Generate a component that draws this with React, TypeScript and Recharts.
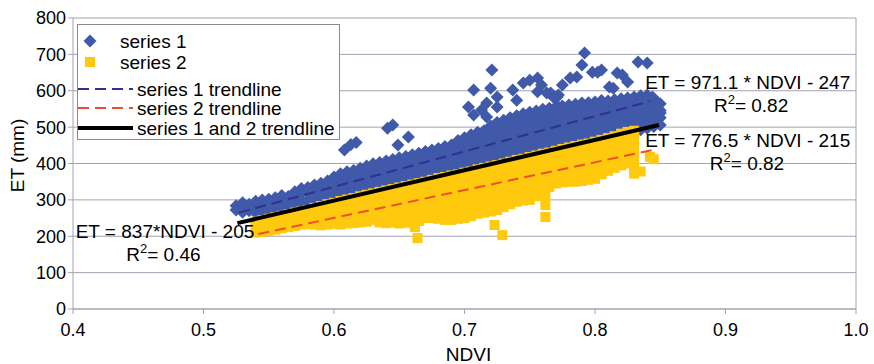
import React from 'react';
import { ScatterChart, Scatter, XAxis, YAxis, CartesianGrid, ReferenceLine, ReferenceDot } from 'recharts';

const FONT = '"Liberation Sans", Arial, Helvetica, sans-serif';

const xTicks = [0.4, 0.5, 0.6, 0.7, 0.8, 0.9, 1.0];
const yTicks = [0, 100, 200, 300, 400, 500, 600, 700, 800];

// series 1 (dense band) — NDVI columns and ET values read per column
const s1Ndvi = [0.525, 0.53, 0.535, 0.54, 0.545, 0.55, 0.555, 0.56, 0.565, 0.57, 0.575, 0.58, 0.585, 0.59, 0.595,
  0.6, 0.605, 0.61, 0.615, 0.62, 0.625, 0.63, 0.635, 0.64, 0.645, 0.65, 0.655, 0.66, 0.665, 0.67, 0.675, 0.68, 0.685,
  0.69, 0.695, 0.7, 0.705, 0.71, 0.715, 0.72, 0.725, 0.73, 0.735, 0.74, 0.745, 0.75, 0.755, 0.76, 0.765, 0.77, 0.775,
  0.78, 0.785, 0.79, 0.795, 0.8, 0.805, 0.81, 0.815, 0.82, 0.825, 0.83, 0.835, 0.84, 0.845, 0.85];
const s1Et = [
  [272, 284], [266, 283, 292], [270, 288], [264, 281, 296], [268, 287, 300], [270, 284, 302], [272, 291, 306],
  [268, 287, 304, 312], [271, 290, 309], [274, 294, 313, 322], [278, 297, 318, 331], [281, 300, 320, 334],
  [285, 304, 324, 341], [289, 309, 329, 346], [292, 312, 332, 352], [296, 315, 335, 354, 363], [300, 320, 340, 360, 372],
  [304, 324, 344, 364, 377], [308, 328, 348, 368, 381], [312, 332, 352, 372, 387], [317, 337, 357, 377, 393],
  [321, 341, 361, 381, 399], [325, 345, 365, 385, 403], [329, 349, 369, 389, 407], [334, 354, 374, 394, 411],
  [338, 358, 378, 398, 416], [342, 362, 382, 402, 419], [346, 366, 386, 406, 424], [350, 370, 390, 410, 428],
  [355, 375, 395, 415, 433], [359, 379, 399, 419, 437], [363, 383, 403, 423, 441], [367, 387, 407, 427, 447],
  [371, 391, 411, 431, 451], [376, 396, 416, 436, 456, 463], [380, 400, 420, 440, 460, 471],
  [384, 404, 424, 444, 464, 479], [388, 408, 428, 448, 468, 486], [392, 412, 432, 452, 472, 490],
  [397, 417, 437, 457, 477, 497, 503], [401, 421, 441, 461, 481, 501, 513], [405, 425, 445, 465, 485, 505, 519],
  [409, 429, 449, 469, 489, 509, 526], [413, 433, 453, 473, 493, 513, 531], [418, 438, 458, 478, 498, 518, 537],
  [422, 442, 462, 482, 502, 522, 541], [426, 446, 466, 486, 506, 526, 544], [430, 450, 470, 490, 510, 530, 549],
  [434, 454, 474, 494, 514, 534, 552], [439, 459, 479, 499, 519, 539, 556], [443, 463, 483, 503, 523, 543, 558],
  [447, 467, 487, 507, 527, 547, 561], [451, 471, 491, 511, 531, 551, 563], [455, 475, 495, 515, 535, 555, 566],
  [460, 480, 500, 520, 540, 560, 567], [464, 484, 504, 524, 544, 564, 569], [468, 488, 508, 528, 548, 568, 573],
  [472, 492, 512, 532, 552, 572], [476, 496, 516, 536, 556, 575], [481, 501, 521, 541, 561, 578],
  [485, 505, 525, 545, 565, 580], [489, 509, 529, 549, 569, 583], [493, 513, 533, 553, 573, 586],
  [497, 517, 537, 557, 577, 588], [502, 521, 541, 561, 579], [506, 526, 546, 564],
];
const s1Outliers = [
  [0.608, 437], [0.613, 452], [0.617, 458], [0.641, 497], [0.645, 506], [0.649, 451], [0.657, 473],
  [0.721, 657], [0.707, 602], [0.72, 607], [0.703, 555], [0.707, 533], [0.713, 547], [0.717, 566], [0.725, 583],
  [0.725, 555], [0.723, 506], [0.717, 528], [0.737, 602], [0.74, 574], [0.745, 621], [0.75, 629], [0.756, 635],
  [0.759, 616], [0.756, 597], [0.763, 594], [0.768, 583], [0.772, 588], [0.775, 616], [0.781, 635], [0.786, 638],
  [0.79, 671], [0.792, 704], [0.798, 651], [0.772, 555], [0.802, 651], [0.805, 657], [0.814, 607], [0.821, 643],
  [0.825, 624], [0.833, 679], [0.84, 676], [0.844, 583], [0.848, 566], [0.85, 539], [0.844, 520], [0.811, 610],
  [0.817, 649], [0.766, 594], [0.771, 583],
];

// series 2 (dense band)
const s2Ndvi = [0.54, 0.545, 0.55, 0.555, 0.56, 0.565, 0.57, 0.575, 0.58, 0.585, 0.59, 0.595, 0.6, 0.605, 0.61,
  0.615, 0.62, 0.625, 0.63, 0.635, 0.64, 0.645, 0.65, 0.655, 0.66, 0.665, 0.67, 0.675, 0.68, 0.685, 0.69, 0.695,
  0.7, 0.705, 0.71, 0.715, 0.72, 0.725, 0.73, 0.735, 0.74, 0.745, 0.75, 0.755, 0.76, 0.765, 0.77, 0.775, 0.78,
  0.785, 0.79, 0.795, 0.8, 0.805, 0.81, 0.815, 0.82, 0.825, 0.83];
const s2Et = [
  [210, 225, 240], [212, 228, 244], [215, 232, 248], [218, 235, 252], [222, 240, 256], [225, 243, 260],
  [228, 248, 265], [232, 250, 268], [233, 253, 272], [232, 252, 270, 278], [230, 250, 268, 283],
  [232, 252, 272, 288], [234, 254, 274, 292], [232, 252, 272, 292, 297], [235, 255, 275, 295, 301],
  [236, 256, 276, 296, 305], [238, 258, 278, 298, 310], [240, 260, 280, 300, 314], [245, 265, 285, 305, 318],
  [238, 258, 278, 298, 318, 322], [236, 256, 276, 296, 316, 326], [238, 258, 278, 298, 318, 330],
  [235, 255, 275, 295, 315, 334], [237, 257, 277, 297, 317, 338], [240, 260, 280, 300, 320, 342],
  [242, 262, 282, 302, 322, 342, 346], [250, 270, 290, 310, 330, 350], [250, 270, 290, 310, 330, 350, 355],
  [248, 268, 288, 308, 328, 348, 360], [245, 265, 285, 305, 325, 345, 363], [245, 265, 285, 305, 325, 345, 367],
  [248, 268, 288, 308, 328, 348, 370], [250, 270, 290, 310, 330, 350, 375], [255, 275, 295, 315, 335, 355, 378],
  [262, 282, 302, 322, 342, 362, 384], [265, 285, 305, 325, 345, 365, 388], [268, 288, 308, 328, 348, 368, 392],
  [272, 292, 312, 332, 352, 372, 396], [280, 300, 320, 340, 360, 380, 400], [288, 308, 328, 348, 368, 388, 405],
  [295, 315, 335, 355, 375, 395, 410], [298, 318, 338, 358, 378, 398, 413], [300, 320, 340, 360, 380, 400, 418],
  [310, 330, 350, 370, 390, 410, 422], [320, 340, 360, 380, 400, 420, 427], [335, 355, 375, 395, 415, 430],
  [345, 365, 385, 405, 425, 435], [348, 368, 388, 408, 428, 440], [350, 370, 390, 410, 430, 444],
  [350, 370, 390, 410, 430, 448], [352, 372, 392, 412, 432, 452], [355, 375, 395, 415, 435, 455],
  [358, 378, 398, 418, 438, 460], [370, 390, 410, 430, 450, 465], [380, 400, 420, 440, 460, 470],
  [388, 408, 428, 448, 468, 475], [395, 415, 435, 455, 475, 482], [400, 420, 440, 460, 480, 487],
  [372, 392, 412, 432, 452, 472, 490],
];
const s2Outliers = [
  [0.662, 225], [0.664, 195], [0.723, 231], [0.729, 203], [0.762, 253], [0.762, 286], [0.762, 315],
  [0.842, 418], [0.845, 412], [0.835, 378],
];

// trendlines (end points)
const trend1 = [[0.527, 265], [0.842, 571]];
const trend2 = [[0.542, 206], [0.844, 437]];
const trend12 = [[0.526, 236], [0.849, 506]];

// annotation texts and their centres (NDVI, ET)
const annotations = [
  { x: 0.917, y: 624, text: 'ET = 971.1 * NDVI - 247', r2: null },
  { x: 0.9196, y: 561, text: '', r2: '0.82' },
  { x: 0.917, y: 465, text: 'ET = 776.5 * NDVI - 215', r2: null },
  { x: 0.9165, y: 401, text: '', r2: '0.82' },
  { x: 0.4705, y: 215, text: 'ET = 837*NDVI - 205', r2: null },
  { x: 0.4693, y: 150, text: '', r2: '0.46' },
];

const BLUE = '#4059a9';
const YELLOW = '#ffc90e';
const NAVY = '#2e3192';
const RED = '#f04e2a';
const GRID = '#a2a2b2';

function build(ndvi: number[], et: number[][], extra: number[][]) {
  const out: { x: number; y: number }[] = [];
  ndvi.forEach((x, i) => et[i].forEach((y) => out.push({ x, y })));
  extra.forEach(([x, y]) => out.push({ x, y }));
  return out;
}
const toPts = (arr: number[][]) => arr.map(([x, y]) => ({ x, y }));

const s1Data = build(s1Ndvi, s1Et, s1Outliers);
const s2Data = build(s2Ndvi, s2Et, s2Outliers);
const t1Data = toPts(trend1);
const t2Data = toPts(trend2);
const t12Data = toPts(trend12);

const Diamond = (p: any) => {
  const { cx, cy } = p;
  if (cx == null || cy == null) return <g />;
  const r = 6.5;
  return <path d={`M${cx},${cy - r}L${cx + r},${cy}L${cx},${cy + r}L${cx - r},${cy}Z`} fill={BLUE} />;
};

const Square = (p: any) => {
  const { cx, cy } = p;
  if (cx == null || cy == null) return <g />;
  const h = 5;
  return <rect x={cx - h} y={cy - h} width={2 * h} height={2 * h} fill={YELLOW} />;
};

const NoShape = () => <g />;

const makeAnn = (a: { text: string; r2: string | null }) => (p: any) => {
  const { cx, cy } = p;
  if (cx == null || cy == null) return <g />;
  if (a.r2) {
    return (
      <text x={cx} y={cy + 7} textAnchor="middle" fontFamily={FONT} fontSize={19} fill="#000">
        R<tspan dy={-8} fontSize={13}>2</tspan><tspan dy={8}>= {a.r2}</tspan>
      </text>
    );
  }
  return (
    <text x={cx} y={cy + 7} textAnchor="middle" fontFamily={FONT} fontSize={19} fill="#000">{a.text}</text>
  );
};

const YLabel = (p: any) => {
  const vb = p.viewBox || { x: 0, y: 18, width: 73, height: 291 };
  const x = vb.x + 24;
  const y = vb.y + vb.height / 2 - 8;
  return (
    <text x={x} y={y} transform={`rotate(-90, ${x}, ${y})`} textAnchor="middle" fontFamily={FONT} fontSize={19} fill="#000">
      ET (mm)
    </text>
  );
};

const XLabel = (p: any) => {
  const vb = p.viewBox || { x: 73, y: 309, width: 783, height: 55 };
  const x = vb.x + vb.width / 2 + 4;
  const y = vb.y + 52;
  return (
    <text x={x} y={y} textAnchor="middle" fontFamily={FONT} fontSize={19} fill="#000">NDVI</text>
  );
};

const LegendBox = () => (
  <svg width={264} height={117} style={{ position: 'absolute', left: 77, top: 24 }}>
    <rect x={0.5} y={0.5} width={262} height={115} fill="#fff" stroke="#8a8a8a" strokeWidth={1} />
    <path d="M13,10.5L19.5,17L13,23.5L6.5,17Z" fill={BLUE} />
    <text x={43} y={23.5} fontFamily={FONT} fontSize={19} fill="#000">series 1</text>
    <rect x={8} y={33} width={10} height={10} fill={YELLOW} />
    <text x={43} y={44.5} fontFamily={FONT} fontSize={19} fill="#000">series 2</text>
    <line x1={1} x2={56} y1={65} y2={65} stroke={NAVY} strokeWidth={2} strokeDasharray="11 6" />
    <text x={60} y={72} fontFamily={FONT} fontSize={19} fill="#000">series 1 trendline</text>
    <line x1={1} x2={56} y1={84} y2={84} stroke={RED} strokeWidth={2} strokeDasharray="11 6" />
    <text x={60} y={91} fontFamily={FONT} fontSize={19} fill="#000">series 2 trendline</text>
    <line x1={1} x2={56} y1={104} y2={104} stroke="#000" strokeWidth={4} />
    <text x={60} y={111} fontFamily={FONT} fontSize={19} fill="#000">series 1 and 2 trendline</text>
  </svg>
);

export default function App() {
  return (
    <div style={{ position: 'absolute', left: 0, top: 0, width: 874, height: 364, background: '#fff' }}>
      <ScatterChart width={874} height={364} margin={{ top: 18, right: 18, bottom: 0, left: 0 }}>
        <CartesianGrid horizontal vertical={false} stroke={GRID} />
        <XAxis
          type="number"
          dataKey="x"
          domain={[0.4, 1.0]}
          ticks={xTicks}
          allowDataOverflow
          tickFormatter={(v: number) => v.toFixed(1)}
          height={55}
          stroke={GRID}
          tickSize={5}
          tickMargin={9}
          tick={{ fill: '#000', fontSize: 18, fontFamily: FONT }}
          label={{ content: XLabel }}
        />
        <YAxis
          type="number"
          dataKey="y"
          domain={[0, 800]}
          ticks={yTicks}
          allowDataOverflow
          width={73}
          stroke={GRID}
          tickSize={5}
          tickMargin={2}
          tick={{ fill: '#000', fontSize: 18, fontFamily: FONT }}
          label={{ content: YLabel }}
        />
        <ReferenceLine x={1.0} stroke={GRID} />
        <Scatter data={s1Data} shape={Diamond} isAnimationActive={false} />
        <Scatter data={s2Data} shape={Square} isAnimationActive={false} />
        <Scatter
          data={t1Data}
          shape={NoShape}
          fill={NAVY}
          line={{ stroke: NAVY, strokeWidth: 2, strokeDasharray: '11 6' }}
          isAnimationActive={false}
        />
        <Scatter
          data={t2Data}
          shape={NoShape}
          fill={RED}
          line={{ stroke: RED, strokeWidth: 2, strokeDasharray: '11 6' }}
          isAnimationActive={false}
        />
        <Scatter
          data={t12Data}
          shape={NoShape}
          fill="#000"
          line={{ stroke: '#000', strokeWidth: 4 }}
          isAnimationActive={false}
        />
        {annotations.map((a, i) => (
          <ReferenceDot key={i} x={a.x} y={a.y} r={0} shape={makeAnn(a)} />
        ))}
      </ScatterChart>
      <LegendBox />
    </div>
  );
}
